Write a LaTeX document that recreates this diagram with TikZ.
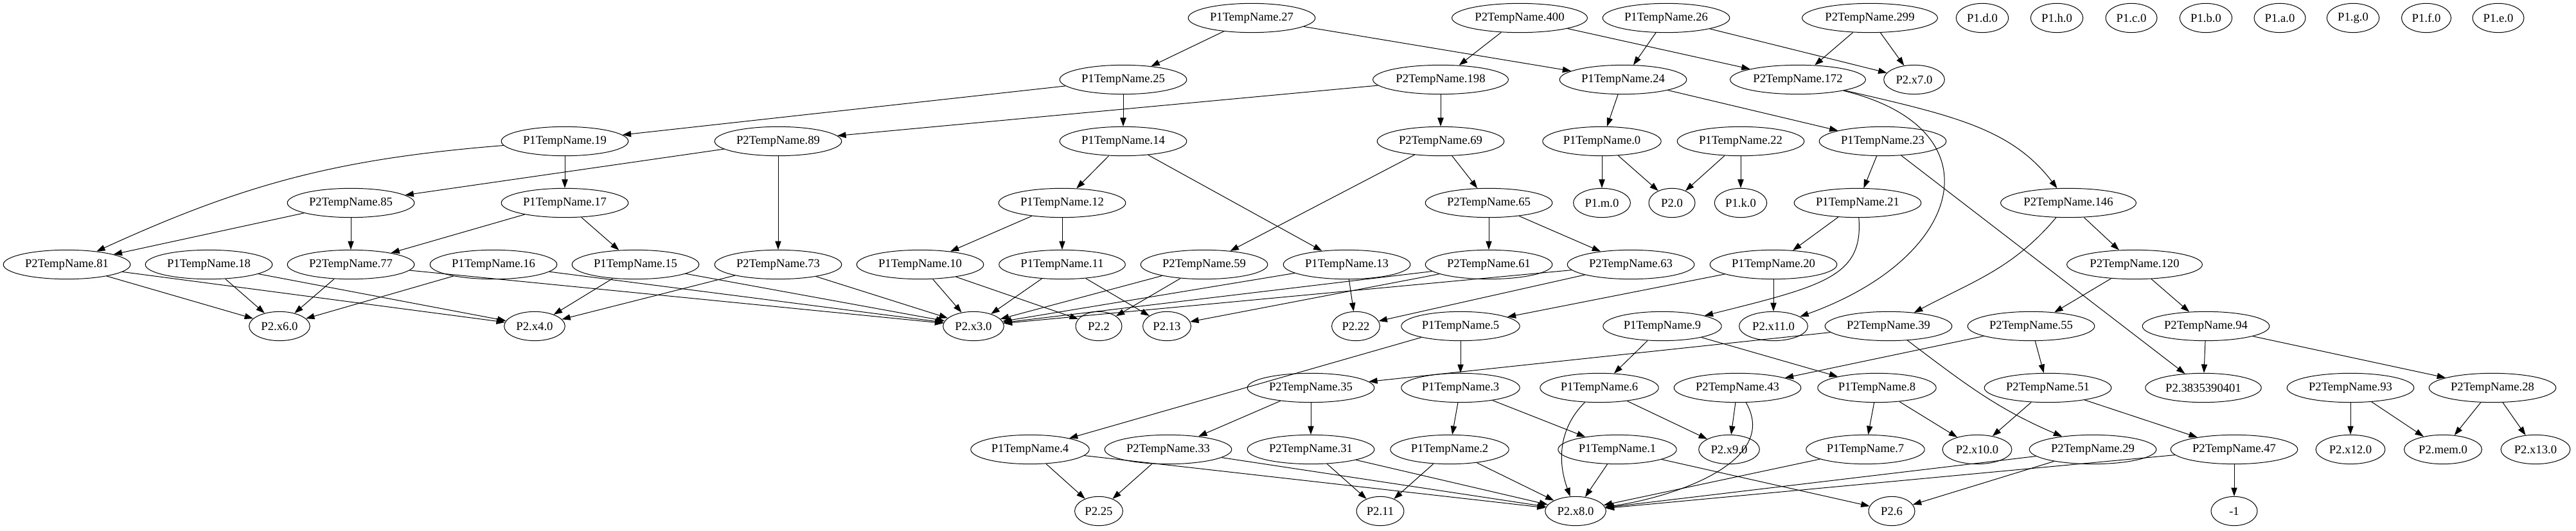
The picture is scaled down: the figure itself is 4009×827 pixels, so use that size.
\documentclass[tikz,border=0pt]{standalone}
\usepackage{fontspec}
\setmainfont{Liberation Serif}
\usetikzlibrary{arrows.meta,shapes.geometric}
\tikzset{
  nd/.style={draw, ellipse, minimum width=54pt, minimum height=34pt, inner xsep=3.7pt, inner ysep=1pt, font=\fontsize{14}{16}\selectfont, line width=0.75pt},
  ed/.style={-{Triangle[length=10pt,width=7pt]}, line width=0.75pt}
}
\begin{document}
\begin{tikzpicture}[x=0.75pt,y=-0.75pt]
\useasboundingbox[fill=white] (0,0) rectangle (4009,827);
% row 1
\node[nd] (p27) at (1948,28) {P1TempName.27};
\node[nd] (q400) at (2365,28) {P2TempName.400};
\node[nd] (p26) at (2593,28) {P1TempName.26};
\node[nd] (q299) at (2910,28) {P2TempName.299};
\node[nd] (ld) at (3085,28) {P1.d.0};
\node[nd] (lh) at (3201,28) {P1.h.0};
\node[nd] (lc) at (3317,28) {P1.c.0};
\node[nd] (lb) at (3433,28) {P1.b.0};
\node[nd] (la) at (3548,28) {P1.a.0};
\node[nd] (lg) at (3662,28) {P1.g.0};
\node[nd] (lf) at (3776,28) {P1.f.0};
\node[nd] (le) at (3888,28) {P1.e.0};
% row 2
\node[nd] (p25) at (1748,124) {P1TempName.25};
\node[nd] (q198) at (2242,124) {P2TempName.198};
\node[nd] (p24) at (2526,124) {P1TempName.24};
\node[nd] (q172) at (2798,124) {P2TempName.172};
\node[nd] (x7) at (2979,124) {P2.x7.0};
% row 3
\node[nd] (p19) at (879,220) {P1TempName.19};
\node[nd] (q89) at (1211,220) {P2TempName.89};
\node[nd] (p14) at (1748,220) {P1TempName.14};
\node[nd] (q69) at (2242,220) {P2TempName.69};
\node[nd] (p0) at (2493,220) {P1TempName.0};
\node[nd] (p22) at (2709,220) {P1TempName.22};
\node[nd] (p23) at (2930,220) {P1TempName.23};
% row 4
\node[nd] (q85) at (546,316) {P2TempName.85};
\node[nd] (p17) at (879,316) {P1TempName.17};
\node[nd] (p12) at (1653,316) {P1TempName.12};
\node[nd] (q65) at (2317,316) {P2TempName.65};
\node[nd] (lm) at (2493,316) {P1.m.0};
\node[nd] (t0) at (2602,316) {P2.0};
\node[nd] (lk) at (2709,316) {P1.k.0};
\node[nd] (p21) at (2891,316) {P1TempName.21};
\node[nd] (q146) at (3219,316) {P2TempName.146};
% row 5
\node[nd] (q81) at (104,412) {P2TempName.81};
\node[nd] (p18) at (325,412) {P1TempName.18};
\node[nd] (q77) at (546,412) {P2TempName.77};
\node[nd] (p16) at (768,412) {P1TempName.16};
\node[nd] (p15) at (989,412) {P1TempName.15};
\node[nd] (q73) at (1211,412) {P2TempName.73};
\node[nd] (p10) at (1432,412) {P1TempName.10};
\node[nd] (p11) at (1653,412) {P1TempName.11};
\node[nd] (q59) at (1874,412) {P2TempName.59};
\node[nd] (p13) at (2096,412) {P1TempName.13};
\node[nd] (q61) at (2317,412) {P2TempName.61};
\node[nd] (q63) at (2538,412) {P2TempName.63};
\node[nd] (p20) at (2760,412) {P1TempName.20};
\node[nd] (q120) at (3322,412) {P2TempName.120};
% row 6
\node[nd] (x6) at (435,508) {P2.x6.0};
\node[nd] (x4) at (832,508) {P2.x4.0};
\node[nd] (x3) at (1515,508) {P2.x3.0};
\node[nd] (t2) at (1710,508) {P2.2};
\node[nd] (t13) at (1816,508) {P2.13};
\node[nd] (t22) at (2110,508) {P2.22};
\node[nd] (p5) at (2273,508) {P1TempName.5};
\node[nd] (p9) at (2587,508) {P1TempName.9};
\node[nd] (x11) at (2760,508) {P2.x11.0};
\node[nd] (q39) at (2939,508) {P2TempName.39};
\node[nd] (q55) at (3161,508) {P2TempName.55};
\node[nd] (q94) at (3433,508) {P2TempName.94};
% row 7
\node[nd] (q35) at (2040,604) {P2TempName.35};
\node[nd] (p3) at (2273,604) {P1TempName.3};
\node[nd] (p6) at (2489,604) {P1TempName.6};
\node[nd] (q43) at (2704,604) {P2TempName.43};
\node[nd] (p8) at (2921,604) {P1TempName.8};
\node[nd] (q51) at (3187,604) {P2TempName.51};
\node[nd] (big) at (3429,604) {P2.3835390401};
\node[nd] (q93) at (3658,604) {P2TempName.93};
\node[nd] (q28) at (3879,604) {P2TempName.28};
% row 8
\node[nd] (p4) at (1603,700) {P1TempName.4};
\node[nd] (q33) at (1818,700) {P2TempName.33};
\node[nd] (q31) at (2040,700) {P2TempName.31};
\node[nd] (p2) at (2256,700) {P1TempName.2};
\node[nd] (p1) at (2517,700) {P1TempName.1};
\node[nd] (x9) at (2691,700) {P2.x9.0};
\node[nd] (p7) at (2903,700) {P1TempName.7};
\node[nd] (x10) at (3077,700) {P2.x10.0};
\node[nd] (q29) at (3257,700) {P2TempName.29};
\node[nd] (q47) at (3477,700) {P2TempName.47};
\node[nd] (x12) at (3658,700) {P2.x12.0};
\node[nd] (mem) at (3802,700) {P2.mem.0};
\node[nd] (x13) at (3946,700) {P2.x13.0};
% row 9
\node[nd] (t25) at (1710,796) {P2.25};
\node[nd] (t11) at (2148,796) {P2.11};
\node[nd] (x8) at (2452,796) {P2.x8.0};
\node[nd] (t6) at (2944,796) {P2.6};
\node[nd] (neg) at (3477,796) {-1};
% edges
\foreach \a/\b in {p27/p25, p27/p24, q400/q198, q400/q172, p26/p24, p26/x7, q299/q172, q299/x7,
  p25/p19, p25/p14, q198/q89, q198/q69, p24/p0, p24/p23,
  p19/p17, q89/q85, q89/q73, p14/p12, p14/p13, q69/q59, q69/q65, p0/lm, p0/t0, p22/t0, p22/lk, p23/p21, p23/big,
  q85/q81, q85/q77, p17/q77, p17/p15, p12/p10, p12/p11, q65/q61, q65/q63, p21/p20, q146/q120,
  q81/x6, q81/x4, p18/x6, p18/x4, q77/x6, q77/x3, p16/x6, p16/x3, p15/x4, p15/x3, q73/x4, q73/x3,
  p10/x3, p10/t2, p11/x3, p11/t13, q59/x3, q59/t2, p13/x3, p13/t22, q61/x3, q61/t13, q63/x3, q63/t22,
  p20/p5, p20/x11, q120/q55, q120/q94,
  p5/p4, p5/p3, p9/p6, p9/p8, q39/q35, q55/q43, q55/q51, q94/big, q94/q28,
  q35/q33, q35/q31, p3/p2, p3/p1, p6/x9, q43/x9, p8/p7, p8/x10, q51/x10, q51/q47, q93/x12, q93/mem, q28/mem, q28/x13,
  p4/t25, p4/x8, q33/t25, q33/x8, q31/t11, q31/x8, p2/t11, p2/x8, p1/x8, p1/t6, p7/x8, q29/x8, q29/t6, q47/x8, q47/neg}
  \draw[ed] (\a) -- (\b);
% curved edges
\draw[ed] (p19) to[bend right=10] (q81);
\draw[ed] (q172) .. controls (3110,200) and (3060,400) .. (x11);
\draw[ed] (q172) .. controls (3040,180) and (3130,200) .. (q146);
\draw[ed] (p21) .. controls (2900,430) and (2840,445) .. (p9);
\draw[ed] (q146) to[out=-130,in=28] (q39);
\draw[ed] (q39) to[out=-37,in=157] (q29);
\draw[ed] (p6) to[out=-135,in=110] (x8);
\draw[ed] (q43) to[out=-60,in=8] (x8);
\end{tikzpicture}
\end{document}
